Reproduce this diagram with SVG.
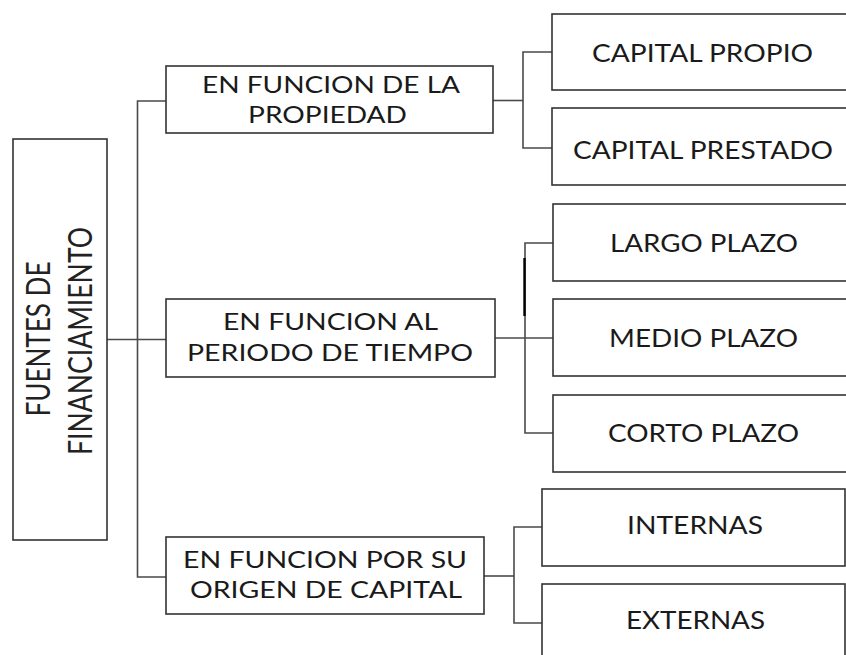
<svg xmlns="http://www.w3.org/2000/svg" width="846" height="655" viewBox="0 0 846 655">
<style>
.box{fill:#fff;stroke:#333;stroke-width:1.6}
.t{font-family:Lato,"Open Sans","Liberation Sans",sans-serif;fill:#1a1a1a;text-anchor:middle}
.m{font-size:23px}
.r{font-size:25px}
.root{font-size:32px;font-weight:400;fill:#222}
.c{fill:none;stroke:#4a4a4a;stroke-width:1.6}
</style>
<rect width="846" height="655" fill="#fff"/>
<g id="connectors">
<path class="c" d="M107 339.5 H166"/>
<path class="c" d="M166 101 H137.5 V577 H166"/>
<path class="c" d="M493 100.5 H523"/>
<path class="c" d="M552 52 H523 V148 H552"/>
<path class="c" d="M495 338 H553"/>
<path class="c" d="M553 243 H525 V433 H553"/>
<path d="M524.5 258 V316" stroke="#000" stroke-width="2.4" fill="none"/>
<path class="c" d="M484 576 H514"/>
<path class="c" d="M542 527 H514 V623 H542"/>
</g>
<g id="root">
<rect class="box" x="13" y="139" width="94" height="401"/>
<text class="t root" transform="rotate(-90)" x="-339" y="50" textLength="155" lengthAdjust="spacingAndGlyphs">FUENTES DE</text>
<text class="t root" transform="rotate(-90)" x="-341" y="92" textLength="228" lengthAdjust="spacingAndGlyphs">FINANCIAMIENTO</text>
</g>
<g id="propiedad">
<rect class="box" x="166" y="66" width="327" height="67"/>
<text class="t m" x="331" y="93" textLength="258" lengthAdjust="spacingAndGlyphs">EN FUNCION DE LA</text>
<text class="t m" x="327.5" y="122.5" textLength="159" lengthAdjust="spacingAndGlyphs">PROPIEDAD</text>
</g>
<g id="periodo">
<rect class="box" x="166" y="299" width="329" height="78"/>
<text class="t m" x="330.5" y="330" textLength="215" lengthAdjust="spacingAndGlyphs">EN FUNCION AL</text>
<text class="t m" x="330" y="360.5" textLength="286" lengthAdjust="spacingAndGlyphs">PERIODO DE TIEMPO</text>
</g>
<g id="origen">
<rect class="box" x="166" y="537" width="318" height="77"/>
<text class="t m" x="325" y="568" textLength="284" lengthAdjust="spacingAndGlyphs">EN FUNCION POR SU</text>
<text class="t m" x="326" y="598" textLength="272" lengthAdjust="spacingAndGlyphs">ORIGEN DE CAPITAL</text>
</g>
<g id="capital-propio">
<rect class="box" x="552" y="14" width="300" height="76"/>
<text class="t r" x="702.5" y="61.5" textLength="221" lengthAdjust="spacingAndGlyphs">CAPITAL PROPIO</text>
</g>
<g id="capital-prestado">
<rect class="box" x="552" y="108" width="300" height="77"/>
<text class="t r" x="703" y="158.5" textLength="260" lengthAdjust="spacingAndGlyphs">CAPITAL PRESTADO</text>
</g>
<g id="largo">
<rect class="box" x="553" y="204" width="300" height="77"/>
<text class="t r" x="704" y="251.5" textLength="188" lengthAdjust="spacingAndGlyphs">LARGO PLAZO</text>
</g>
<g id="medio">
<rect class="box" x="553" y="299" width="300" height="77"/>
<text class="t r" x="703.5" y="346.5" textLength="189" lengthAdjust="spacingAndGlyphs">MEDIO PLAZO</text>
</g>
<g id="corto">
<rect class="box" x="553" y="395" width="300" height="77"/>
<text class="t r" x="703.5" y="441.5" textLength="191" lengthAdjust="spacingAndGlyphs">CORTO PLAZO</text>
</g>
<g id="internas">
<rect class="box" x="542" y="489" width="303" height="77"/>
<text class="t r" x="695" y="534" textLength="136" lengthAdjust="spacingAndGlyphs">INTERNAS</text>
</g>
<g id="externas">
<rect class="box" x="542" y="584" width="303" height="100"/>
<text class="t r" x="695.5" y="629" textLength="139" lengthAdjust="spacingAndGlyphs">EXTERNAS</text>
</g>
</svg>
